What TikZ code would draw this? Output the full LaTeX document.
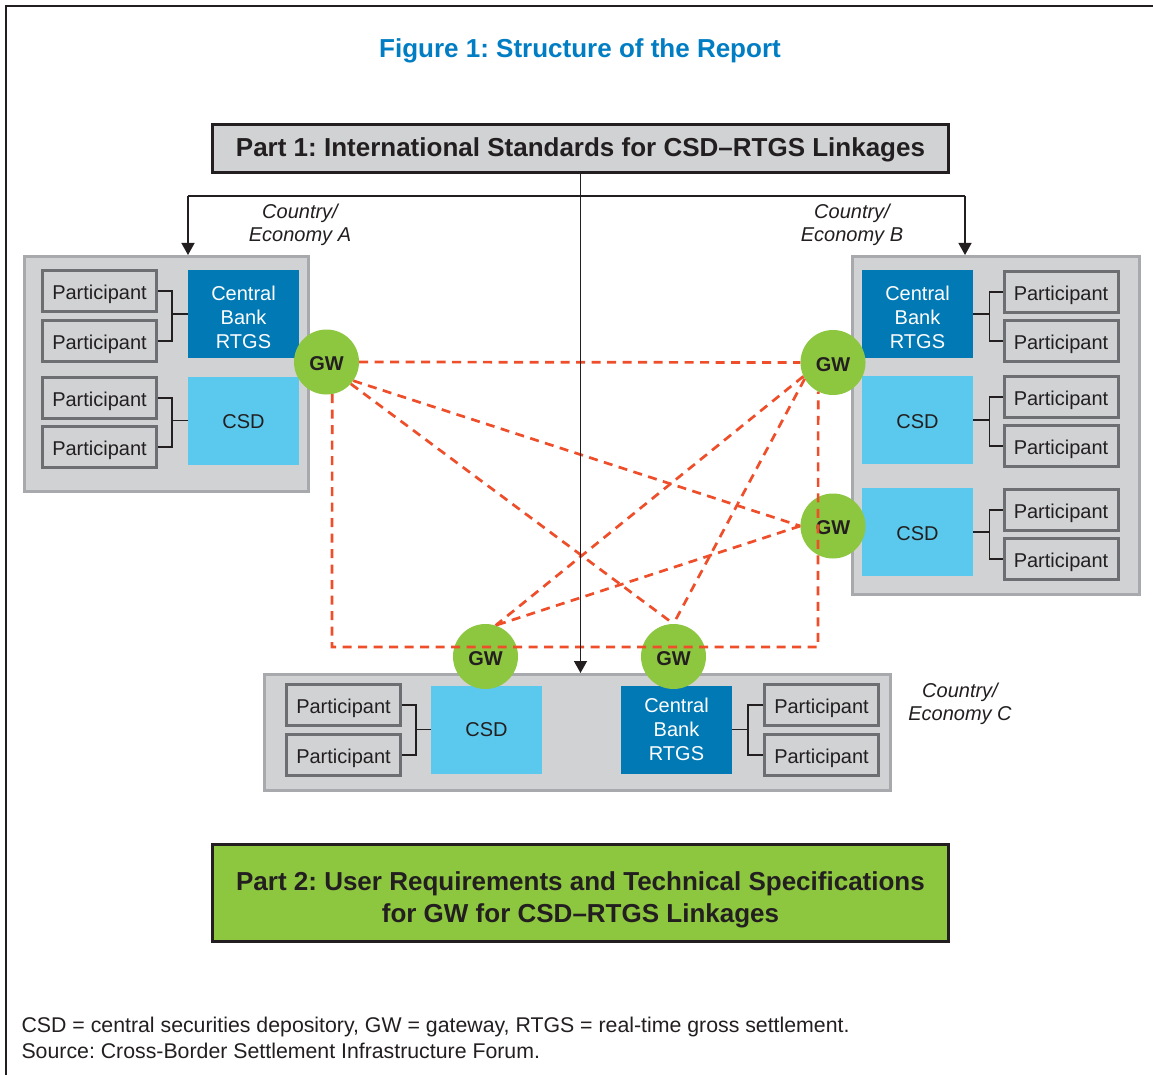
\documentclass[tikz,border=0pt]{standalone}
\usepackage{fontspec}
\setmainfont{Liberation Sans}
\usetikzlibrary{arrows.meta}
\frenchspacing
\definecolor{titleblue}{RGB}{0,125,195}
\definecolor{darkblue}{RGB}{0,121,181}
\definecolor{lightblue}{RGB}{91,201,238}
\definecolor{gwgreen}{RGB}{141,198,63}
\definecolor{boxgray}{RGB}{209,210,212}
\definecolor{boxborder}{RGB}{167,169,172}
\definecolor{pborder}{RGB}{109,110,113}
\definecolor{linkorange}{RGB}{239,78,42}
\definecolor{txt}{RGB}{35,31,32}
\newcommand{\lowerby}[2]{\raisebox{-#1pt}[\height][\depth]{#2}}
\newcommand{\stacked}[1]{\begin{tabular}{@{}c@{}}#1\end{tabular}}
\begin{document}
\begin{tikzpicture}[x=1pt,y=-1pt,
  country/.style={draw=boxborder, fill=boxgray, line width=3pt, inner sep=0pt},
  participant/.style={draw=pborder, fill=boxgray, line width=3pt, minimum width=114pt, minimum height=41pt, inner sep=0pt, text=txt, font=\fontsize{20}{24}\selectfont},
  cbrtgs/.style={fill=darkblue, text=white, minimum width=111pt, minimum height=88pt, inner sep=0pt, align=center, font=\fontsize{20}{24}\selectfont},
  csdbox/.style={fill=lightblue, text=txt, minimum width=111pt, minimum height=88pt, inner sep=0pt, font=\fontsize{20}{24}\selectfont},
  gw/.style={circle, fill=gwgreen, minimum size=65pt, inner sep=0pt, text=txt, font=\bfseries\fontsize{20}{24}\selectfont},
  link/.style={draw=linkorange, line width=2.7pt, dash pattern=on 9pt off 6.5pt},
  bracket/.style={draw=txt, line width=1.3pt},
  arr/.style={draw=txt, line width=1.4pt, -{Triangle[width=13pt,length=12pt]}},
  plain/.style={draw=txt, line width=1.4pt},
  partbox/.style={draw=txt, line width=3pt, inner sep=0pt, text=txt, align=center, font=\bfseries\fontsize{26}{32}\selectfont},
  clabel/.style={align=center, text=txt, font=\itshape\fontsize{20}{23.5}\selectfont}
]
\useasboundingbox (0,0) rectangle (1153,1075);
\fill[white] (0,0) rectangle (1153,1075);
% frame
\draw[txt, line width=2.2pt] (1153,6) -- (6,6) -- (6,1075);

% title
\node[text=titleblue, font=\bfseries\fontsize{26}{30}\selectfont] (title) at (580,51) {Figure 1: Structure of the Report};

% Part 1
\node[partbox, fill=boxgray, minimum width=736pt, minimum height=48pt] (p1) at (580.5,148.5) {\lowerby{1}{Part 1: International Standards for CSD--RTGS Linkages}};

% Country A
\node[country, minimum width=284pt, minimum height=235pt] (boxA) at (166.5,374) {};
\node[participant] (pA1) at (99.5,291) {\lowerby{3}{Participant}};
\node[participant] (pA2) at (99.5,341) {\lowerby{3}{Participant}};
\node[participant] (pA3) at (99.5,398) {\lowerby{3}{Participant}};
\node[participant] (pA4) at (99.5,447) {\lowerby{3}{Participant}};
\node[cbrtgs] (cbA) at (243.5,314) {\lowerby{6}{\stacked{Central\\Bank\\RTGS}}};
\node[csdbox] (csdA) at (243.5,420.5) {\lowerby{1.5}{CSD}};
\draw[bracket] (pA1.east) -- ++(14,0) |- (pA2.east);
\draw[bracket] (cbA.west) -- ++(-16,0);
\draw[bracket] (pA3.east) -- ++(14,0) |- (pA4.east);
\draw[bracket] (csdA.west) -- ++(-16,0);

% Country B
\node[country, minimum width=287pt, minimum height=338pt] (boxB) at (996,425.5) {};
\node[participant] (pB1) at (1061,292) {\lowerby{3}{Participant}};
\node[participant] (pB2) at (1061,341) {\lowerby{3}{Participant}};
\node[participant] (pB3) at (1061,397) {\lowerby{3}{Participant}};
\node[participant] (pB4) at (1061,446) {\lowerby{3}{Participant}};
\node[participant] (pB5) at (1061,510) {\lowerby{3}{Participant}};
\node[participant] (pB6) at (1061,559) {\lowerby{3}{Participant}};
\node[cbrtgs] (cbB) at (917.5,314) {\lowerby{6}{\stacked{Central\\Bank\\RTGS}}};
\node[csdbox] (csdB1) at (917.5,420) {\lowerby{1.5}{CSD}};
\node[csdbox] (csdB2) at (917.5,532) {\lowerby{1.5}{CSD}};
\draw[bracket] (pB1.west) -- ++(-13,0) |- (pB2.west);
\draw[bracket] (cbB.east) -- ++(17,0);
\draw[bracket] (pB3.west) -- ++(-13,0) |- (pB4.west);
\draw[bracket] (csdB1.east) -- ++(17,0);
\draw[bracket] (pB5.west) -- ++(-13,0) |- (pB6.west);
\draw[bracket] (csdB2.east) -- ++(17,0);

% Country C
\node[country, minimum width=626pt, minimum height=116pt] (boxC) at (577.5,732.5) {};
\node[participant] (pC1) at (343.5,705) {\lowerby{3}{Participant}};
\node[participant] (pC2) at (343.5,755) {\lowerby{3}{Participant}};
\node[csdbox] (csdC) at (486.5,729.5) {CSD};
\node[cbrtgs] (cbC) at (676.5,729.5) {\lowerby{2}{\stacked{Central\\Bank\\RTGS}}};
\node[participant] (pC3) at (821.5,705) {\lowerby{3}{Participant}};
\node[participant] (pC4) at (821.5,755) {\lowerby{3}{Participant}};
\draw[bracket] (pC1.east) -- ++(14,0) |- (pC2.east);
\draw[bracket] (csdC.west) -- ++(-15,0);
\draw[bracket] (pC3.west) -- ++(-15,0) |- (pC4.west);
\draw[bracket] (cbC.east) -- ++(16,0);

% labels
\node[clabel] (labA) at (300,225) {Country/\\Economy A};
\node[clabel] (labB) at (852,225) {Country/\\Economy B};
\node[clabel] (labC) at (960,704) {Country/\\Economy C};

% gateways
\node[gw] (gwA) at (326.5,362) {\lowerby{2}{GW}};
\node[gw] (gwB1) at (833,362.5) {\lowerby{2}{GW}};
\node[gw] (gwB2) at (833,526) {\lowerby{2}{GW}};
\node[gw] (gwC1) at (485.5,656.5) {\lowerby{2}{GW}};
\node[gw] (gwC2) at (673.5,656.5) {\lowerby{2}{GW}};

% dashed links
\coordinate (rbl) at (332,647);
\coordinate (rbr) at (818,647);
\draw[link] (gwA.east) -- (gwB1.west);
\draw[link] (gwA.-80) -- (rbl) -- (rbr) -- (gwB1.-117);
\draw[link] (gwA.-35) -- (gwB2.west);
\draw[link] (gwA.-42) -- (gwC2.north);
\draw[link] (gwB1.-155) -- (gwC1.72);
\draw[link] (gwB1.-150) -- (gwC2.north);
\draw[link] (gwB2.west) -- (gwC1.72);

% arrows from Part 1
\coordinate (jA) at (188,196);
\coordinate (jB) at (965,196);
\draw[plain] (jA) -- (jB);
\draw[arr] (jA) -- (jA |- boxA.north);
\draw[arr] (jB) -- (jB |- boxB.north);
\draw[arr] (p1.south) -- (p1.south |- boxC.north);

% Part 2
\node[partbox, fill=gwgreen, minimum width=736pt, minimum height=97pt] (p2) at (580.5,893) {\lowerby{7}{\stacked{Part 2: User Requirements and Technical Specifications\\for GW for CSD--RTGS Linkages}}};

% footer
\node[anchor=west, align=left, text=txt, font=\fontsize{21.3}{26}\selectfont] (foot) at (18,1038) {CSD = central securities depository, GW = gateway, RTGS = real-time gross settlement.\\Source: Cross-Border Settlement Infrastructure Forum.};
\end{tikzpicture}
\end{document}
